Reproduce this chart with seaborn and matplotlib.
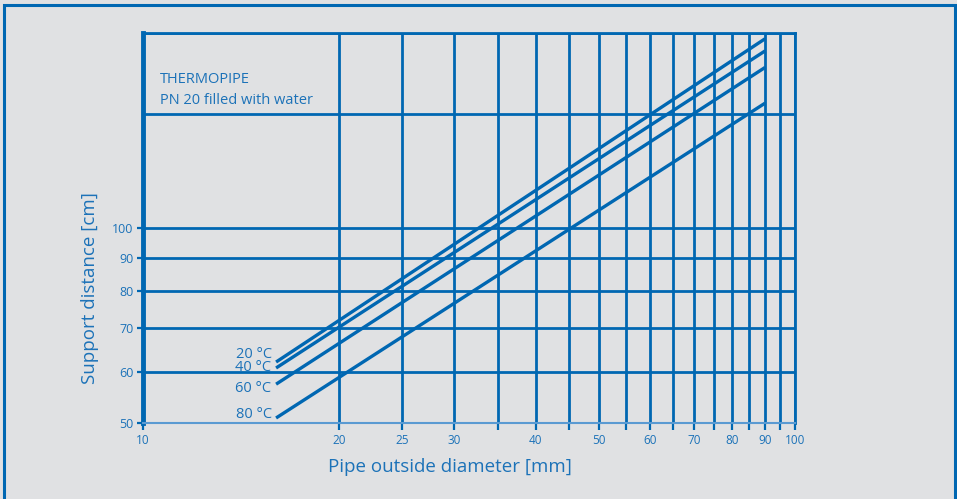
import matplotlib
matplotlib.use("Agg")
import matplotlib.pyplot as plt
import seaborn as sns
import pandas as pd
from matplotlib.patches import Rectangle

# Pipe outside diameter [mm] at both ends of each line
diameters = [16, 90]
# Support distance [cm] per medium temperature
support_20 = [62.1, 196.0]
support_40 = [60.8, 187.7]
support_60 = [57.4, 177.0]
support_80 = [50.9, 155.9]
temps = ["20 °C", "40 °C", "60 °C", "80 °C"]

x_labeled = [10, 20, 25, 30, 40, 50, 60, 70, 80, 90, 100]
x_grid = [20, 25, 30, 35, 40, 45, 50, 55, 60, 65, 70, 75, 80, 85, 90, 95, 100]
y_labeled = [50, 60, 70, 80, 90, 100]
y_grid = [60, 70, 80, 90, 100, 150, 200]

BLUE = "#0067b2"
TEXT = "#1c72b8"
LIGHT = "#5a9ad2"
BG = "#e0e1e3"

rows = []
for t, vals in zip(temps, [support_20, support_40, support_60, support_80]):
    for d, v in zip(diameters, vals):
        rows.append({"d": d, "s": v, "temp": t})
df = pd.DataFrame(rows)

sns.set_theme(style="white")
plt.rcParams["font.family"] = ["Open Sans", "DejaVu Sans"]

fig = plt.figure(figsize=(9.57, 4.99), dpi=100, facecolor=BG)
ax = fig.add_axes([143 / 957, 1 - 423 / 499, (795 - 143) / 957, (423 - 33) / 499])
ax.set_facecolor(BG)

ax.set_xscale("log")
ax.set_yscale("log")
ax.set_xlim(10, 100)
ax.set_ylim(50, 200)

for xv in x_grid:
    ax.axvline(xv, color=BLUE, lw=2.0, zorder=1)
for yv in y_grid:
    ax.axhline(yv, color=BLUE, lw=2.0, zorder=1)

sns.lineplot(data=df, x="d", y="s", hue="temp", palette=[BLUE] * 4,
             lw=2.4, legend=False, ax=ax, zorder=3,
             solid_capstyle="butt")

# Temperature labels at the left end of each line
offsets = [(-4, 8), (-5, 0), (-5, -4), (-4, 3)]
for t, vals, off in zip(temps, [support_20, support_40, support_60, support_80], offsets):
    ax.annotate(t, xy=(diameters[0], vals[0]), xytext=off, textcoords="offset pixels",
                ha="right", va="center", fontsize=10.5, color=TEXT)

fig.text(160 / 957, 1 - 80 / 499, "THERMOPIPE", fontsize=10.5, color=TEXT, va="center")
fig.text(160 / 957, 1 - 100 / 499, "PN 20 filled with water", fontsize=10.5, color=TEXT, va="center")

# Ticks
ax.xaxis.set_major_locator(matplotlib.ticker.FixedLocator(x_grid + [10]))
ax.xaxis.set_minor_locator(matplotlib.ticker.NullLocator())
ax.xaxis.set_major_formatter(matplotlib.ticker.FuncFormatter(
    lambda v, p: f"{int(round(v))}" if int(round(v)) in x_labeled else ""))
ax.yaxis.set_major_locator(matplotlib.ticker.FixedLocator(y_labeled))
ax.yaxis.set_minor_locator(matplotlib.ticker.NullLocator())
ax.yaxis.set_major_formatter(matplotlib.ticker.FuncFormatter(lambda v, p: f"{int(round(v))}"))
ax.tick_params(axis="x", which="major", direction="out", length=5, width=1.6,
               color=BLUE, labelcolor=TEXT, labelsize=8.5, pad=3, bottom=True)
ax.tick_params(axis="y", which="major", direction="out", length=4, width=1.6,
               color=BLUE, labelcolor=TEXT, labelsize=9, pad=3, left=True)

ax.set_xlabel("")
ax.set_ylabel("")

for side in ["top", "right"]:
    ax.spines[side].set_color(BLUE)
    ax.spines[side].set_linewidth(2.0)
ax.spines["left"].set_color(BLUE)
ax.spines["left"].set_linewidth(3.5)
ax.spines["bottom"].set_color(LIGHT)
ax.spines["bottom"].set_linewidth(1.5)

fig.text(450 / 957, 1 - 467 / 499, "Pipe outside diameter [mm]", fontsize=13.5,
         color=TEXT, ha="center", va="center")
fig.text(90 / 957, 1 - 288 / 499, "Support distance [cm]", fontsize=13.5,
         color=TEXT, ha="center", va="center", rotation=90)

# Outer frame
fig.patches.append(Rectangle((4 / 957, -0.05), 951 / 957, 1 - 5 / 499 + 0.05,
                             transform=fig.transFigure, fill=False,
                             edgecolor=BLUE, lw=2.2, zorder=10))

fig.savefig("out.png", dpi=100, facecolor=BG)
